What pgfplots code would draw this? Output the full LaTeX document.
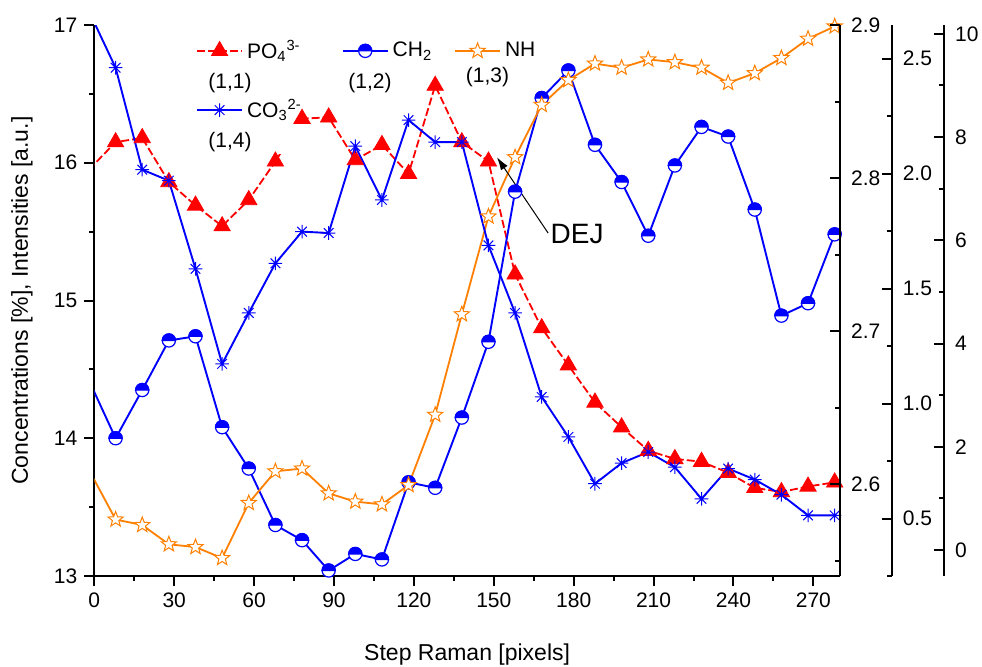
\documentclass[border=0pt]{standalone}
\usepackage{fontspec}
\setmainfont{Liberation Sans}
\usepackage{pgfplots}
\usepackage{pgfplotstable}
\pgfplotsset{compat=1.18}
\usetikzlibrary{arrows.meta}

\definecolor{myred}{RGB}{255,0,0}
\definecolor{myblue}{RGB}{0,0,255}
\definecolor{myorange}{RGB}{255,128,0}

\pgfdeclareplotmark{halfcirc}{%
  \pgfpathcircle{\pgfpointorigin}{\pgfplotmarksize}%
  \pgfsetfillcolor{white}\pgfusepathqfillstroke
  \pgfpathmoveto{\pgfqpoint{\pgfplotmarksize}{0pt}}%
  \pgfpatharc{0}{180}{\pgfplotmarksize}%
  \pgfpathclose
  \pgfsetfillcolor{myblue}\pgfusepathqfillstroke}

\pgfdeclareplotmark{ostar}{%
  \pgfpathmoveto{\pgfpointpolar{90}{\pgfplotmarksize}}%
  \pgfpathlineto{\pgfpointpolar{126}{0.42\pgfplotmarksize}}%
  \pgfpathlineto{\pgfpointpolar{162}{\pgfplotmarksize}}%
  \pgfpathlineto{\pgfpointpolar{198}{0.42\pgfplotmarksize}}%
  \pgfpathlineto{\pgfpointpolar{234}{\pgfplotmarksize}}%
  \pgfpathlineto{\pgfpointpolar{270}{0.42\pgfplotmarksize}}%
  \pgfpathlineto{\pgfpointpolar{306}{\pgfplotmarksize}}%
  \pgfpathlineto{\pgfpointpolar{342}{0.42\pgfplotmarksize}}%
  \pgfpathlineto{\pgfpointpolar{18}{\pgfplotmarksize}}%
  \pgfpathlineto{\pgfpointpolar{54}{0.42\pgfplotmarksize}}%
  \pgfpathclose
  \pgfsetfillcolor{white}\pgfusepathqfillstroke}

\pgfdeclareplotmark{ast8}{%
  \pgfpathmoveto{\pgfqpoint{-\pgfplotmarksize}{0pt}}%
  \pgfpathlineto{\pgfqpoint{\pgfplotmarksize}{0pt}}%
  \pgfpathmoveto{\pgfqpoint{0pt}{-\pgfplotmarksize}}%
  \pgfpathlineto{\pgfqpoint{0pt}{\pgfplotmarksize}}%
  \pgfpathmoveto{\pgfpointpolar{45}{\pgfplotmarksize}}%
  \pgfpathlineto{\pgfpointpolar{225}{\pgfplotmarksize}}%
  \pgfpathmoveto{\pgfpointpolar{135}{\pgfplotmarksize}}%
  \pgfpathlineto{\pgfpointpolar{315}{\pgfplotmarksize}}%
  \pgfusepathqstroke}

\pgfplotstableread{
x    po4    co3    ch2    nh
-2   15.95  17.10  14.42  13.77
8    16.15  16.69  14.00  13.41
18   16.18  15.95  14.35  13.37
28   15.86  15.87  14.71  13.23
38   15.69  15.23  14.74  13.21
48   15.54  14.54  14.08  13.13
58   15.73  14.91  13.78  13.53
68   16.01  15.27  13.37  13.76
78   16.32  15.50  13.26  13.78
88   16.33  15.49  13.04  13.60
98   16.02  16.12  13.16  13.54
108  16.13  15.73  13.12  13.52
118  15.92  16.31  13.68  13.66
128  16.56  16.15  13.64  14.17
138  16.15  16.15  14.15  14.90
148  16.01  15.40  14.70  15.61
158  15.19  14.91  15.79  16.04
168  14.80  14.30  16.47  16.42
178  14.53  14.01  16.67  16.60
188  14.26  13.67  16.13  16.72
198  14.08  13.82  15.86  16.69
208  13.91  13.90  15.47  16.75
218  13.85  13.79  15.98  16.73
228  13.83  13.56  16.26  16.69
238  13.75  13.78  16.19  16.58
248  13.64  13.70  15.66  16.65
258  13.61  13.59  14.89  16.76
268  13.65  13.44  14.98  16.90
278  13.68  13.44  15.48  16.99
}\data

\pgfplotsset{
  rightaxis/.style={
    at={(0pt,0pt)}, anchor=south west,
    scale only axis, height=275.5pt,
    xmin=0, xmax=280,
    hide x axis, axis y line*=right,
    axis line style={line width=1pt},
    tick style={line width=1pt, black},
    ytick align=inside,
    major tick length=5pt, minor tick length=2.5pt,
    tick label style={font=\fontsize{10.5}{12}\selectfont},
    yticklabel style={xshift=2pt},
    /pgf/number format/assume math mode=true,
  }
}

\begin{document}
\begin{tikzpicture}
\begin{axis}[
  at={(0pt,0pt)}, anchor=south west,
  scale only axis, width=372.85pt, height=275.5pt,
  xmin=0, xmax=280, ymin=13, ymax=17,
  axis x line*=bottom, axis y line*=left,
  axis line style={line width=1pt},
  tick style={line width=1pt, black},
  tick align=outside,
  major tick length=5pt, minor tick length=2.5pt,
  xtick={0,30,...,270}, minor x tick num=1,
  ytick={13,14,15,16,17}, minor y tick num=1,
  tick label style={font=\fontsize{10.5}{12}\selectfont},
  /pgf/number format/assume math mode=true,
  label style={font=\fontsize{11.5}{13}\selectfont},
  xlabel={Step Raman [pixels]},
  ylabel={Concentrations [\%], Intensities [a.u.]},
  xlabel style={at={(axis description cs:0.5,-0.143)}, anchor=center},
  ylabel style={at={(axis description cs:-0.097,0.5)}, anchor=center},
  legend columns=3,
  legend cell align=left,
  legend style={draw=none, fill=none,
    at={(axis description cs:0.128,0.8993)}, anchor=west,
    font=\fontsize{10.5}{12}\selectfont,
    row sep=15pt,
    /tikz/column 2/.style={column sep=18pt},
    /tikz/column 4/.style={column sep=9pt}},
  legend image code/.code={\draw[mark repeat=2,mark phase=2] plot coordinates {(0pt,0pt) (11.25pt,0pt) (22.5pt,0pt)};},
]
\addplot[myred, line width=0.9pt, dash pattern=on 4pt off 1.5pt, mark=triangle*, mark size=4.7pt,
  mark options={fill=myred, draw=myred, line width=0.4pt, solid}]
  table[x=x, y=po4] {\data};
\addlegendentry{PO\textsubscript{4}\textsuperscript{3-}}
\addplot[myblue, line width=0.95pt, mark=halfcirc, mark size=3.3pt,
  mark options={draw=myblue, line width=0.6pt}]
  table[x=x, y=ch2] {\data};
\addlegendentry{CH\textsubscript{2}}
\addplot[myorange, line width=0.9pt, mark=ostar, mark size=4pt,
  mark options={draw=myorange, line width=0.5pt}]
  table[x=x, y=nh] {\data};
\addlegendentry{NH}
\addplot[myblue, line width=0.95pt, mark=ast8, mark size=3.4pt,
  mark options={draw=myblue, line width=0.5pt}]
  table[x=x, y=co3] {\data};
\addlegendentry{CO\textsubscript{3}\textsuperscript{2-}}

\fill[white] (axis cs:35.9,16.064) rectangle (axis cs:77.7,16.93);
\node[font=\fontsize{10.5}{12}\selectfont] at (axis cs:50.96,16.579) {(1,1)};
\node[font=\fontsize{10.5}{12}\selectfont] at (axis cs:103.5,16.579) {(1,2)};
\node[font=\fontsize{10.5}{12}\selectfont] at (axis cs:147.65,16.623) {(1,3)};
\node[font=\fontsize{10.5}{12}\selectfont] at (axis cs:50.96,16.151) {(1,4)};
\draw[-{Latex[length=6.5pt,width=4pt]}, line width=0.5pt] (axis cs:170.4,15.49) -- (axis cs:151.2,16.04);
\node[font=\fontsize{14}{16}\selectfont] at (axis cs:181.3,15.48) {DEJ};
\end{axis}

% right axis 1
\begin{axis}[rightaxis, width=372.85pt,
  ymin=2.5399, ymax=2.9,
  ytick={2.6,2.7,2.8,2.9}, minor ytick={2.55,2.65,2.75,2.85},
  yticklabel style={/pgf/number format/.cd, fixed, fixed zerofill, precision=1},
]
\end{axis}
% right axis 2
\begin{axis}[rightaxis, width=398.7pt,
  ymin=0.25, ymax=2.6457,
  ytick={0.5,1.0,1.5,2.0,2.5}, minor ytick={0.25,0.75,1.25,1.75,2.25},
  yticklabel style={/pgf/number format/.cd, fixed, fixed zerofill, precision=1},
]
\end{axis}
% right axis 3
\begin{axis}[rightaxis, width=424.85pt,
  ymin=-0.504, ymax=10.17,
  ytick={0,2,4,6,8,10}, minor ytick={1,3,5,7,9},
]
\end{axis}

\pgfresetboundingbox
\path[use as bounding box] (-47.15pt,-45pt) rectangle (443.85pt,288pt);
\end{tikzpicture}
\end{document}
